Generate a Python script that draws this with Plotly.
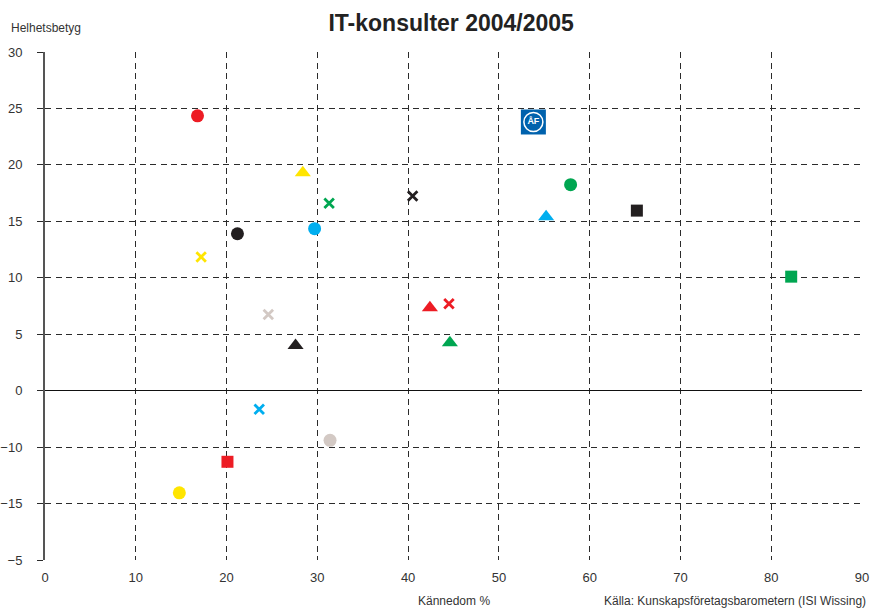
import plotly.graph_objects as go

# ---- data ----
kannedom = [16.8, 28.4, 31.3, 21.2, 29.7, 17.2, 24.6, 27.6, 23.6, 31.4, 20.1, 14.8,
            40.5, 57.9, 55.2, 65.2, 82.2, 42.4, 44.5, 44.6]
helhetsbetyg = [24.35, 19.3, 16.6, 13.9, 14.35, 11.85, 6.75, 4.0, -1.65, -4.4, -6.3, -9.05,
                17.25, 18.25, 15.4, 15.95, 10.1, 7.35, 7.7, 4.25]
af_kannedom = [53.8]
af_helhetsbetyg = [23.8]
af_label = ["ÅF"]

x_tickvals = [0, 10, 20, 30, 40, 50, 60, 70, 80, 90]
x_ticktext = ["0", "10", "20", "30", "40", "50", "60", "70", "80", "90"]
y_tickvals = [30, 25, 20, 15, 10, 5, 0, -5, -10, -15]
y_ticktext = ["30", "25", "20", "15", "10", "5", "0", "\u221210", "\u221215", "\u22125"]

title_text = "IT-konsulter 2004/2005"
y_title = "Helhetsbetyg"
x_title = "Kännedom %"
source_text = "Källa: Kunskapsföretagsbarometern (ISI Wissing)"

# ---- styles ----
RED, YEL, GRN, BLK, CYN, GRY = "#ED1C24", "#FFE500", "#00A651", "#231F20", "#00AEEF", "#D3C9C4"
marker_colours = [RED, YEL, GRN, BLK, CYN, YEL, GRY, BLK, CYN, GRY, RED, YEL,
                  BLK, GRN, CYN, BLK, GRN, RED, RED, GRN]
marker_symbols = ["circle", "triangle-up", "x", "circle", "circle", "x", "x", "triangle-up",
                  "x", "circle", "square", "circle",
                  "x", "circle", "triangle-up", "square", "square", "triangle-up", "x", "triangle-up"]
symbol_style = {
    "circle": dict(symbol="circle", size=13, line_width=0),
    "triangle-up": dict(symbol="triangle-up", size=14, line_width=0),
    "square": dict(symbol="square", size=12, line_width=0),
    "x": dict(symbol="x-thin-open", size=9.5, line_width=2.8),
}

FONT = "Liberation Sans, Arial, sans-serif"
GRID = "#2b2b2b"

fig = go.Figure()
for kind, st in symbol_style.items():
    idx = [i for i, s in enumerate(marker_symbols) if s == kind]
    cols = [marker_colours[i] for i in idx]
    mk = dict(color=cols, symbol=st["symbol"], size=st["size"], opacity=1,
              line=dict(width=st["line_width"]))
    if st["line_width"] > 0:
        mk["line"]["color"] = cols
    fig.add_trace(go.Scatter(
        x=[kannedom[i] for i in idx], y=[helhetsbetyg[i] for i in idx],
        mode="markers", marker=mk, showlegend=False, hoverinfo="skip"))

# ÅF logo marker
fig.add_trace(go.Scatter(
    x=af_kannedom, y=af_helhetsbetyg, mode="markers",
    marker=dict(color="#0062AD", symbol="square", size=25, opacity=1, line=dict(width=0)),
    showlegend=False, hoverinfo="skip"))
fig.add_trace(go.Scatter(
    x=af_kannedom, y=af_helhetsbetyg, mode="markers+text",
    marker=dict(color="white", symbol="circle-open", size=19, opacity=1,
                line=dict(width=1.5, color="white")),
    text=["<b>" + t + "</b>" for t in af_label], textposition="middle center",
    textfont=dict(family=FONT, size=9, color="white"),
    showlegend=False, hoverinfo="skip"))

fig.update_layout(
    width=871, height=609,
    margin=dict(l=44.5, r=8.5, t=52.3, b=49, autoexpand=False),
    paper_bgcolor="white", plot_bgcolor="white",
    font=dict(family=FONT, color="#333333"),
    title=dict(text="<b>" + title_text + "</b>", x=0.518, xanchor="center",
               y=0.963, yanchor="middle",
               font=dict(family=FONT, size=23, color="#222222")),
    xaxis=dict(range=[0, 90], tickvals=x_tickvals, ticktext=x_ticktext,
               automargin=False,
               showgrid=True, gridcolor=GRID, gridwidth=1.2, griddash="6px,4.5px",
               zeroline=False, showline=False, ticks="", ticklabelstandoff=8,
               tickfont=dict(family=FONT, size=13, color="#333333")),
    yaxis=dict(range=[-15, 30], tickvals=y_tickvals, ticktext=y_ticktext,
               automargin=False,
               showgrid=True, gridcolor=GRID, gridwidth=1.2, griddash="6px,4.5px",
               zeroline=True, zerolinecolor="#111111", zerolinewidth=1.4,
               showline=True, linecolor="#555555", linewidth=2,
               ticks="outside", ticklen=6, tickcolor=GRID, tickwidth=1.2,
               ticklabelstandoff=12,
               tickfont=dict(family=FONT, size=13, color="#333333")),
    annotations=[
        dict(text=y_title, xref="paper", yref="paper", x=-0.0435, y=1.0,
             xanchor="left", yanchor="bottom", yshift=15, showarrow=False,
             font=dict(family=FONT, size=12, color="#333333")),
        dict(text=x_title, xref="paper", yref="paper", x=0.5, y=0,
             xanchor="center", yanchor="middle", yshift=-41, showarrow=False,
             font=dict(family=FONT, size=12, color="#333333")),
        dict(text=source_text, xref="paper", yref="paper", x=1.007, y=0,
             xanchor="right", yanchor="middle", yshift=-41, showarrow=False,
             font=dict(family=FONT, size=12, color="#333333")),
    ],
)

fig.write_html("out.html", config={"displayModeBar": False},
               post_script="document.body.style.margin='0';document.body.style.overflow='hidden';")
